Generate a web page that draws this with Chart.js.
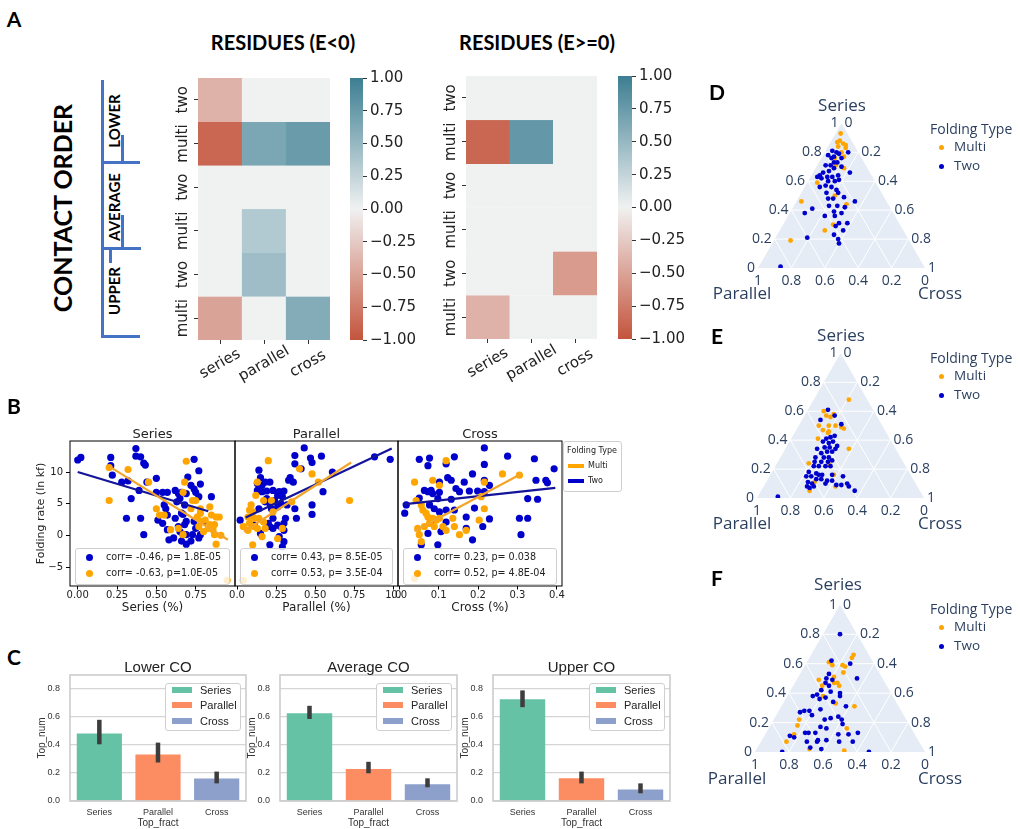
<!DOCTYPE html>
<html><head><meta charset="utf-8">
<script src="https://cdn.jsdelivr.net/npm/chart.js@4.4.1/dist/chart.umd.min.js"></script>
<style>
html,body{margin:0;padding:0;background:#fff;}
#root{position:relative;width:1020px;height:829px;overflow:hidden;background:#fff;}
</style></head><body><div id="root"></div>
<script>
// ================= DATA =================
// Panel A : residue heatmaps (rows top -> bottom)
const heatRowLabels = ['two','multi','two','multi','two','multi'];
const heatColLabels = ['series','parallel','cross'];
const resNegSeries   = [-0.40,-0.88, 0.00, 0.00, 0.00,-0.50];
const resNegParallel = [ 0.00, 0.65, 0.00, 0.35, 0.45, 0.00];
const resNegCross    = [ 0.00, 0.75, 0.00, 0.00, 0.00, 0.60];
const resPosSeries   = [ 0.00,-0.88, 0.00, 0.00, 0.00,-0.40];
const resPosParallel = [ 0.00, 0.78, 0.00, 0.00, 0.00, 0.00];
const resPosCross    = [ 0.00, 0.00, 0.00, 0.00,-0.55, 0.00];
const colorbarTicks  = [1,0.75,0.5,0.25,0,-0.25,-0.5,-0.75,-1];

// Panel B : folding rate vs topology fraction  [fraction, ln kf]
const seriesTwo = [[0.00,11.9],[0.02,12.3],[0.21,12.3],[0.37,13.7],[0.37,12.5],[0.40,12.4],[0.42,11.4],[0.43,11.1],[0.74,12.0],[0.21,11.0],[0.22,9.5],[0.28,8.4],[0.32,8.6],[0.34,5.8],[0.39,7.1],[0.31,2.7],[0.40,2.7],[0.42,0.1],[0.44,8.4],[0.50,9.0],[0.50,6.8],[0.54,6.8],[0.57,6.8],[0.55,4.8],[0.56,4.2],[0.57,3.2],[0.51,2.4],[0.54,1.9],[0.57,0.9],[0.58,-0.7],[0.62,7.1],[0.64,6.6],[0.65,5.8],[0.66,6.8],[0.63,5.3],[0.68,4.8],[0.66,3.5],[0.62,2.7],[0.64,1.4],[0.68,1.7],[0.69,2.2],[0.70,9.2],[0.72,7.9],[0.74,7.3],[0.69,6.6],[0.75,6.8],[0.77,10.2],[0.78,8.1],[0.77,6.1],[0.74,2.2],[0.75,1.1],[0.73,0.1],[0.78,0.1],[0.69,0.1],[0.66,-0.9],[0.69,-1.4],[0.67,0.1],[0.61,-0.4],[0.65,0.6],[0.80,2.2],[0.67,3.3],[0.85,6.1],[0.72,-0.9],[0.77,-0.4]];
const seriesMulti = [[0.20,10.7],[0.32,10.4],[0.69,11.7],[0.20,5.5],[0.45,8.4],[0.50,4.2],[0.68,8.4],[0.67,6.8],[0.73,5.5],[0.75,5.5],[0.72,4.2],[0.78,4.2],[0.84,4.5],[0.85,3.2],[0.88,2.9],[0.90,2.9],[0.76,2.9],[0.78,2.2],[0.81,2.4],[0.84,1.7],[0.87,1.7],[0.83,1.1],[0.86,0.9],[0.87,0.1],[0.91,0.0],[0.67,0.1],[0.64,1.1],[0.59,0.9],[0.55,3.2],[0.52,3.2],[0.77,1.4],[0.80,0.6],[0.88,-1.4],[0.78,3.5],[0.95,-7.1]];
const parallelTwo = [[0.43,13.8],[0.37,12.6],[0.47,12.2],[0.48,11.5],[0.54,12.5],[0.37,11.3],[0.41,10.5],[0.14,10.3],[0.15,9.1],[0.34,9.1],[0.36,8.4],[0.33,8.7],[0.13,8.2],[0.18,8.4],[0.21,8.4],[0.13,7.1],[0.16,6.9],[0.19,7.0],[0.23,7.1],[0.27,6.9],[0.30,7.0],[0.26,6.3],[0.29,6.1],[0.24,5.5],[0.18,5.3],[0.21,5.0],[0.28,5.0],[0.14,4.2],[0.22,4.2],[0.26,4.5],[0.32,4.8],[0.37,4.2],[0.48,4.8],[0.48,3.3],[0.38,2.7],[0.31,2.7],[0.23,2.7],[0.20,1.9],[0.21,1.4],[0.23,1.1],[0.26,1.6],[0.28,1.4],[0.30,1.9],[0.30,0.8],[0.27,-0.2],[0.30,-1.0],[0.29,-1.8],[0.21,-1.5],[0.15,0.3],[0.11,1.6],[0.55,6.9],[0.61,10.0],[0.88,12.4],[0.98,12.0],[0.16,7.9],[0.19,5.8],[0.02,2.4]];
const parallelMulti = [[0.20,11.8],[0.40,10.5],[0.48,9.7],[0.13,8.4],[0.12,6.3],[0.17,5.5],[0.09,4.8],[0.08,4.0],[0.10,3.7],[0.07,2.9],[0.11,2.7],[0.14,2.7],[0.08,1.9],[0.11,1.4],[0.13,1.1],[0.17,2.1],[0.18,1.1],[0.16,-0.2],[0.10,-1.5],[0.26,-0.5],[0.29,1.1],[0.23,3.7],[0.22,5.5],[0.35,5.3],[0.52,8.4],[0.72,5.5],[0.07,0.8],[0.04,1.4],[0.04,-7.1]];
const crossTwo = [[0.216,13.8],[0.051,12.0],[0.077,12.2],[0.073,11.0],[0.119,11.3],[0.140,12.4],[0.216,11.2],[0.275,12.5],[0.343,12.1],[0.393,10.5],[0.123,9.1],[0.132,8.7],[0.186,9.7],[0.165,8.4],[0.216,8.7],[0.102,8.4],[0.347,8.7],[0.372,8.7],[0.376,8.3],[0.051,5.9],[0.064,7.1],[0.073,6.9],[0.081,7.1],[0.085,6.6],[0.102,6.8],[0.144,7.4],[0.153,6.9],[0.178,7.0],[0.199,7.0],[0.216,6.9],[0.229,7.9],[0.018,4.8],[0.014,3.5],[0.098,5.8],[0.132,5.7],[0.089,4.2],[0.102,3.7],[0.119,4.0],[0.140,4.0],[0.170,2.9],[0.191,4.3],[0.229,2.6],[0.212,1.4],[0.170,1.1],[0.073,0.3],[0.106,0.6],[0.081,2.3],[0.119,2.1],[0.186,-0.7],[0.305,2.7],[0.326,2.7],[0.309,0.1],[0.326,5.8],[0.351,5.7],[0.098,-1.5],[0.056,-1.5],[0.077,4.8]];
const crossMulti = [[0.119,11.8],[0.039,8.4],[0.085,8.7],[0.102,7.9],[0.262,9.7],[0.305,9.5],[0.216,8.4],[0.043,5.5],[0.056,4.8],[0.060,4.0],[0.068,3.5],[0.073,2.9],[0.085,2.7],[0.094,2.4],[0.102,2.7],[0.077,1.9],[0.089,1.4],[0.047,1.1],[0.051,0.1],[0.056,-1.0],[0.064,1.4],[0.111,1.4],[0.136,2.7],[0.140,1.4],[0.153,0.1],[0.170,0.8],[0.203,2.4],[0.216,4.2],[0.208,6.1],[0.119,0.8],[0.039,-6.8]];
// regression line end points
const seriesTwoFit = [[0.00,10.0],[0.83,3.8]];
const seriesMultiFit = [[0.20,10.9],[0.955,-0.7]];
const parallelTwoFit = [[0.055,2.8],[0.99,13.7]];
const parallelMultiFit = [[0.044,0.6],[0.73,11.5]];
const crossTwoFit = [[0.009,4.9],[0.396,7.5]];
const crossMultiFit = [[0.039,0.7],[0.309,9.7]];
const seriesCorr = ['corr= -0.46, p= 1.8E-05','corr= -0.63, p=1.0E-05'];
const parallelCorr = ['corr= 0.43, p= 8.5E-05','corr= 0.53, p= 3.5E-04'];
const crossCorr = ['corr= 0.23, p= 0.038','corr= 0.52, p= 4.8E-04'];
const foldYTicks = [-5,0,5,10];
const foldYTickLabels = ['\u22125','0','5','10'];
const seriesXTicks = [0,0.25,0.5,0.75];
const seriesXTickLabels = ['0.00','0.25','0.50','0.75'];
const parallelXTicks = [0,0.25,0.5,0.75,1];
const parallelXTickLabels = ['0.0','0.25','0.50','0.75','1.0'];
const crossXTicks = [0,0.1,0.2,0.3,0.4];
const crossXTickLabels = ['0.0','0.1','0.2','0.3','0.4'];

// Panel C : Top_num by topology
const topCategories = ['Series','Parallel','Cross'];
const lowerMean = [0.483,0.333,0.160];
const lowerLow  = [0.405,0.275,0.126];
const lowerHigh = [0.580,0.417,0.210];
const averageMean = [0.626,0.229,0.119];
const averageLow  = [0.586,0.198,0.098];
const averageHigh = [0.680,0.280,0.162];
const upperMean = [0.726,0.162,0.083];
const upperLow  = [0.670,0.126,0.055];
const upperHigh = [0.790,0.210,0.126];
const topYTicks = [0,0.2,0.4,0.6,0.8];

// Panels D-F : ternary compositions [series, cross]  (parallel = 1 - series - cross)
const lowerTwoTern = [[0.80,0.07],[0.79,0.09],[0.77,0.07],[0.76,0.06],[0.71,0.05],[0.71,0.08],[0.73,0.11],[0.76,0.12],[0.80,0.14],[0.69,0.11],[0.67,0.09],[0.66,0.06],[0.63,0.04],[0.64,0.05],[0.63,0.10],[0.63,0.13],[0.64,0.16],[0.66,0.22],[0.60,0.12],[0.60,0.16],[0.61,0.18],[0.57,0.12],[0.56,0.16],[0.54,0.20],[0.52,0.22],[0.49,0.27],[0.56,0.09],[0.41,0.12],[0.38,0.09],[0.46,0.35],[0.43,0.21],[0.43,0.26],[0.42,0.31],[0.38,0.31],[0.36,0.22],[0.36,0.28],[0.31,0.38],[0.31,0.33],[0.29,0.32],[0.26,0.38],[0.23,0.34],[0.20,0.38],[0.17,0.40],[0.21,0.19],[0.01,0.13],[0.48,0.18],[0.48,0.21],[0.52,0.15],[0.39,0.26],[0.62,0.07],[0.81,0.04],[0.70,0.15],[0.78,0.03],[0.73,0.09]];
const lowerMultiTern = [[0.93,0.03],[0.87,0.04],[0.86,0.08],[0.83,0.11],[0.80,0.10],[0.77,0.13],[0.84,0.06],[0.69,0.17],[0.59,0.06],[0.46,0.03],[0.44,0.31],[0.30,0.30],[0.26,0.27],[0.19,0.10],[0.71,0.11],[0.50,0.21],[0.88,0.05],[0.85,0.10],[0.76,0.08]];
const averageTwoTern = [[0.61,0.12],[0.54,0.11],[0.57,0.18],[0.51,0.25],[0.41,0.21],[0.42,0.23],[0.43,0.25],[0.39,0.20],[0.38,0.24],[0.39,0.26],[0.34,0.19],[0.35,0.23],[0.35,0.26],[0.36,0.30],[0.31,0.23],[0.32,0.26],[0.32,0.29],[0.28,0.21],[0.28,0.26],[0.28,0.29],[0.25,0.22],[0.25,0.26],[0.25,0.30],[0.26,0.32],[0.22,0.23],[0.22,0.26],[0.22,0.30],[0.22,0.33],[0.18,0.22],[0.17,0.27],[0.16,0.31],[0.16,0.37],[0.15,0.22],[0.15,0.25],[0.13,0.29],[0.13,0.32],[0.12,0.36],[0.12,0.39],[0.15,0.44],[0.11,0.25],[0.10,0.28],[0.08,0.26],[0.08,0.30],[0.10,0.36],[0.09,0.43],[0.09,0.46],[0.10,0.49],[0.08,0.51],[0.05,0.56],[0.07,0.28],[0.01,0.12],[0.16,0.29],[0.34,0.30]];
const averageMultiTern = [[0.68,0.21],[0.60,0.10],[0.57,0.13],[0.56,0.16],[0.58,0.17],[0.50,0.12],[0.50,0.18],[0.50,0.22],[0.49,0.26],[0.48,0.28],[0.47,0.16],[0.46,0.20],[0.41,0.16],[0.45,0.20],[0.34,0.38],[0.24,0.19],[0.23,0.32],[0.16,0.38],[0.08,0.43],[0.05,0.29],[0.11,0.29]];
const upperTwoTern = [[0.80,0.10],[0.62,0.14],[0.60,0.26],[0.50,0.35],[0.53,0.17],[0.50,0.17],[0.49,0.21],[0.47,0.18],[0.45,0.21],[0.42,0.18],[0.39,0.17],[0.41,0.24],[0.40,0.30],[0.38,0.31],[0.38,0.15],[0.36,0.20],[0.37,0.23],[0.34,0.29],[0.31,0.38],[0.28,0.15],[0.28,0.18],[0.27,0.13],[0.29,0.24],[0.25,0.21],[0.24,0.37],[0.22,0.40],[0.23,0.33],[0.22,0.30],[0.17,0.30],[0.16,0.34],[0.13,0.23],[0.13,0.25],[0.13,0.29],[0.13,0.54],[0.12,0.43],[0.12,0.49],[0.11,0.15],[0.10,0.18],[0.08,0.33],[0.08,0.38],[0.07,0.46],[0.07,0.54],[0.07,0.27],[0.07,0.33],[0.03,0.31],[0.02,0.38],[0.00,0.16],[0.00,0.67],[0.19,0.42]];
const upperMultiTern = [[0.66,0.25],[0.64,0.25],[0.61,0.13],[0.59,0.16],[0.59,0.22],[0.58,0.24],[0.54,0.25],[0.51,0.21],[0.47,0.25],[0.47,0.23],[0.45,0.27],[0.49,0.13],[0.45,0.17],[0.38,0.21],[0.33,0.31],[0.31,0.43],[0.22,0.15],[0.18,0.16],[0.12,0.17],[0.07,0.15],[0.16,0.46],[0.01,0.52],[0.02,0.31]];
const ternTicks = [0,0.2,0.4,0.6,0.8,1];

// ================= HELPERS =================
Chart.defaults.font.family = "'DejaVu Sans'";
Chart.defaults.color = '#222';
const root = document.getElementById('root');
function div(css, text){ const e=document.createElement('div'); Object.assign(e.style,{position:'absolute'},css); if(text!=null) e.textContent=text; root.appendChild(e); return e; }
function label(text,x,y,font,opt={}){
  const a=opt.anchor||'cc', rot=opt.rot||0;
  const tx=a[0]==='l'?'0':a[0]==='r'?'-100%':'-50%';
  const ty=a[1]==='t'?'0':a[1]==='b'?'-100%':'-50%';
  return div({left:x+'px',top:y+'px',font,color:opt.color||'#000',whiteSpace:'nowrap',lineHeight:'1',transform:`translate(${tx},${ty}) rotate(${rot}deg)`},text);
}
function line(x1,y1,x2,y2,w,color){ // axis-aligned decorative line
  return div({left:Math.min(x1,x2)-(x1===x2?w/2:0)+'px',top:Math.min(y1,y2)-(y1===y2?w/2:0)+'px',width:(x1===x2?w:Math.abs(x2-x1))+'px',height:(y1===y2?w:Math.abs(y2-y1))+'px',background:color});
}
function mkCanvas(l,t,w,h){ const c=document.createElement('canvas'); c.width=w; c.height=h; Object.assign(c.style,{position:'absolute',left:l+'px',top:t+'px',width:w+'px',height:h+'px'}); root.appendChild(c); return c; }
const fixW = w => s => { s.width=w; s.paddingTop=0; s.paddingBottom=0; s.paddingLeft=0; s.paddingRight=0; };
const fixH = h => s => { s.height=h; s.paddingTop=0; s.paddingBottom=0; s.paddingLeft=0; s.paddingRight=0; };
const setTicks = arr => s => { s.ticks = arr.map(v=>({value:v})); };
const baseOpts = {responsive:false, animation:false, devicePixelRatio:1, events:[]};

const framePlugin = {id:'frame', afterDatasetsDraw(chart,args,o){
  if(!o || !o.color) return; const a=chart.chartArea, ctx=chart.ctx;
  ctx.save(); ctx.strokeStyle=o.color; ctx.lineWidth=o.width||1;
  ctx.strokeRect(a.left, a.top, a.right-a.left, a.bottom-a.top); ctx.restore(); }};
Chart.register(framePlugin);

// colour map (diverging red - light - teal)
const cNeg=[196,84,60], cMid=[240,241,241], cPos=[60,126,146];
function cmap(v){ const t=Math.min(1,Math.abs(v)); const e=v<0?cNeg:cPos; const c=cMid.map((m,i)=>Math.round(m+(e[i]-m)*t)); return `rgb(${c.join(',')})`; }

// ================= PANEL A =================
const heatLabelPlugin = {id:'heatLabels', afterDraw(chart,args,o){
  if(!o || !o.rows) return; const {ctx, chartArea:a, scales:{x,y}}=chart;
  ctx.save(); ctx.font=o.font; ctx.fillStyle='#222'; ctx.textAlign='center'; ctx.textBaseline='middle';
  o.rows.forEach((r,i)=>{ const py=y.getPixelForValue(i+0.5); ctx.save(); ctx.translate(a.left-o.yOff,py); ctx.rotate(-Math.PI/2); ctx.fillText(r,0,0); ctx.restore(); });
  o.cols.forEach((c,i)=>{ const px=x.getPixelForValue(i); ctx.save(); ctx.translate(px,a.bottom+o.xOff); ctx.rotate(-Math.PI/6); ctx.fillText(c,0,0); ctx.restore(); });
  ctx.restore(); }};

function heatmap(area, colVals){
  const cl=area.l-34, ct=area.t-4, cr=area.r+4, cb=area.b+50;
  const c=mkCanvas(cl,ct,cr-cl,cb-ct);
  const datasets = heatRowLabels.map((r,ri)=>{
    const cols = colVals.map(arr=>cmap(arr[ri]));
    return {data:heatColLabels.map(()=>1), backgroundColor:cols, borderColor:cols, borderWidth:0.6, barPercentage:1, categoryPercentage:1};
  });
  new Chart(c,{type:'bar', data:{labels:heatColLabels, datasets}, plugins:[heatLabelPlugin], options:{...baseOpts,
    layout:{padding:{left:0,top:4,right:4,bottom:0}, autoPadding:false},
    scales:{
      x:{stacked:true, ticks:{display:false}, grid:{drawOnChartArea:false, offset:false, tickLength:4, color:'#333', lineWidth:1}, border:{display:false}, afterFit:fixH(50)},
      y:{stacked:true, reverse:true, min:0, max:6, afterBuildTicks:setTicks([0.5,1.5,2.5,3.5,4.5,5.5]), ticks:{display:false}, grid:{drawOnChartArea:false, tickLength:4, color:'#333', lineWidth:1}, border:{display:false}, afterFit:fixW(34)}
    },
    plugins:{legend:{display:false}, tooltip:{enabled:false}, heatLabels:{rows:heatRowLabels, cols:heatColLabels, font:'15px "DejaVu Sans"', yOff:15, xOff:24}}}});
}
function colorbar(area){
  const cl=area.l, ct=area.t-10, cr=area.r+62, cb=area.b+10;
  const c=mkCanvas(cl,ct,cr-cl,cb-ct);
  const grad = (ctx)=>{ const ch=ctx.chart; const a=ch.chartArea; if(!a) return cMid; const g=ch.ctx.createLinearGradient(0,a.bottom,0,a.top); for(let i=0;i<=20;i++){ g.addColorStop(i/20, cmap(-1+2*i/20)); } return g; };
  new Chart(c,{type:'bar', data:{labels:[''], datasets:[{data:[[-1,1]], backgroundColor:grad, borderWidth:0, barPercentage:1, categoryPercentage:1}]}, options:{...baseOpts,
    layout:{padding:{left:0,top:10,right:0,bottom:10}, autoPadding:false},
    scales:{
      x:{display:false},
      y:{position:'right', min:-1, max:1, afterBuildTicks:setTicks(colorbarTicks), ticks:{callback:v=>(v<0?'\u2212':'')+Math.abs(v).toFixed(2), font:{size:15}, color:'#222', padding:3}, grid:{drawOnChartArea:false, tickLength:4, color:'#333'}, border:{display:false}, afterFit:fixW(62)}
    }, plugins:{legend:{display:false}, tooltip:{enabled:false}}}});
}
heatmap({l:198,r:330,t:78,b:340},[resNegSeries,resNegParallel,resNegCross]);
colorbar({l:350,r:363,t:78,b:340});
heatmap({l:466,r:597,t:76,b:339},[resPosSeries,resPosParallel,resPosCross]);
colorbar({l:618,r:632,t:76,b:339});

const titleFont='bold 20px Lato';
label('A',14,18,'bold 21px Lato');
label('RESIDUES (E<0)',283,42,titleFont);
label('RESIDUES (E>=0)',537,42,titleFont);
label('CONTACT ORDER',62,208,'bold 25px Lato',{rot:-90});
label('LOWER',114,121,'bold 15px Lato',{rot:-90});
label('AVERAGE',114,207,'bold 15px Lato',{rot:-90});
label('UPPER',114,291,'bold 15px Lato',{rot:-90});
const bc='#4472c4';
line(102,80,102,338,3,bc);
line(101,162,140,162,3,bc);
line(101,248,141,248,3,bc);
line(101,336,140,336,3,bc);
line(122,135,122,162,3,bc);
line(122,215,122,248,3,bc);
line(110,250,110,263,3,bc);

// ================= PANEL B =================
const blueC='#0000cd', orangeC='#ffa500';
function scatterB(o){
  const T=436, areaT=441, areaB=586, B=619;
  const cl=o.showY?31:o.areaL-18, cr=o.areaR+18;
  const c=mkCanvas(cl,T,cr-cl,B-T);
  const pts=arr=>arr.map(p=>({x:p[0],y:p[1]}));
  new Chart(c,{type:'scatter', data:{datasets:[
    {type:'line', data:pts(o.multiFit), borderColor:'#f2a52a', borderWidth:2.2, pointRadius:0, order:0},
    {type:'line', data:pts(o.twoFit), borderColor:'#14149a', borderWidth:2.2, pointRadius:0, order:1},
    {data:pts(o.multi), backgroundColor:orangeC, borderWidth:0, pointRadius:3.6, order:2},
    {data:pts(o.two), backgroundColor:blueC, borderWidth:0, pointRadius:3.6, order:3}
  ]}, options:{...baseOpts,
    layout:{padding:{left:o.showY?0:o.areaL-cl, right:cr-o.areaR, top:areaT-T, bottom:0}, autoPadding:false},
    scales:{
      x:{type:'linear', min:o.xMin, max:o.xMax, afterBuildTicks:setTicks(o.xTicks), ticks:{callback:(v,i)=>o.xLabels[i], font:{size:10}, color:'#222', padding:0, maxRotation:0}, grid:{drawOnChartArea:false, tickLength:3.5, color:'#000'}, border:{display:false}, title:{display:true, text:o.xTitle, font:{size:12}, color:'#222', padding:{top:0,bottom:4}}, afterFit:fixH(B-areaB)},
      y:{display:o.showY, min:-8, max:14.9, afterBuildTicks:setTicks(foldYTicks), ticks:{callback:(v,i)=>foldYTickLabels[i], font:{size:10}, color:'#222', padding:3}, grid:{drawOnChartArea:false, tickLength:4, color:'#000'}, border:{display:false}, title:{display:true, text:'Folding rate (ln kf)', font:{size:11}, color:'#222', padding:{top:4,bottom:0}}, afterFit:fixW(o.showY?o.areaL-cl:0)}
    }, plugins:{legend:{display:false}, tooltip:{enabled:false}, frame:{color:'#000', width:1}}}});
  label(o.title,(o.areaL+o.areaR)/2,433,'13px "DejaVu Sans"',{color:'#222'});
  div({left:(o.areaL+5)+'px',top:'548px',width:(o.areaR-o.areaL-12)+'px',height:'35px',border:'1px solid #cfcfcf',borderRadius:'3px',background:'rgba(255,255,255,0.82)'});
  [[blueC,o.corr[0],557],[orangeC,o.corr[1],573]].forEach(([col,t,y])=>{
    div({left:(o.areaL+16)+'px',top:(y-3.5)+'px',width:'7px',height:'7px',borderRadius:'50%',background:col});
    label(t,o.areaL+36,y,'9.6px "DejaVu Sans"',{anchor:'lc',color:'#222'});
  });
}
scatterB({showY:true, areaL:70, areaR:235, xMin:-0.049, xMax:1.0, xTicks:seriesXTicks, xLabels:seriesXTickLabels, xTitle:'Series (%)', title:'Series', two:seriesTwo, multi:seriesMulti, twoFit:seriesTwoFit, multiFit:seriesMultiFit, corr:seriesCorr});
scatterB({showY:false, areaL:235, areaR:398, xMin:-0.013, xMax:1.03, xTicks:parallelXTicks, xLabels:parallelXTickLabels, xTitle:'Parallel (%)', title:'Parallel', two:parallelTwo, multi:parallelMulti, twoFit:parallelTwoFit, multiFit:parallelMultiFit, corr:parallelCorr});
scatterB({showY:false, areaL:398, areaR:562, xMin:-0.003, xMax:0.413, xTicks:crossXTicks, xLabels:crossXTickLabels, xTitle:'Cross (%)', title:'Cross', two:crossTwo, multi:crossMulti, twoFit:crossTwoFit, multiFit:crossMultiFit, corr:crossCorr});
label('B',14,405,'bold 21px Lato');
// Folding type legend
div({left:'563px',top:'441px',width:'57px',height:'49px',border:'1px solid #cfcfcf',borderRadius:'3px',background:'#fff'});
label('Folding Type',592,451,'8px "DejaVu Sans"',{color:'#222'});
line(568,466,584,466,4,orangeC); label('Multi',588,466,'8px "DejaVu Sans"',{anchor:'lc',color:'#222'});
line(568,481,584,481,4,blueC); label('Two',588,481,'8px "DejaVu Sans"',{anchor:'lc',color:'#222'});

// ================= PANEL C =================
const barColors=['#66c2a5','#fc8d62','#8da0cb'];
function barC(area, mean, low, high, title){
  const cl=area.l-40, ct=area.t-4, cr=area.r+4, cb=829;
  const c=mkCanvas(cl,ct,cr-cl,cb-ct);
  new Chart(c,{type:'bar', data:{labels:topCategories, datasets:[
    {data:low.map((l,i)=>[l,high[i]]), backgroundColor:'#3d3d3d', maxBarThickness:4.5, barPercentage:0.2, categoryPercentage:1, grouped:false, order:0},
    {data:mean, backgroundColor:barColors, barPercentage:0.77, categoryPercentage:1, grouped:false, order:1}
  ]}, options:{...baseOpts,
    layout:{padding:{left:0,top:4,right:4,bottom:0}, autoPadding:false},
    scales:{
      x:{grid:{display:false, drawTicks:false}, border:{display:false}, ticks:{font:{size:9,family:'Liberation Sans'}, color:'#333', padding:6}, title:{display:true, text:'Top_fract', font:{size:10,family:'Liberation Sans'}, color:'#333', padding:{top:0,bottom:0}}, afterFit:fixH(cb-area.b)},
      y:{min:0, max:0.9, afterBuildTicks:setTicks(topYTicks), ticks:{callback:v=>v.toFixed(1), font:{size:9,family:'Liberation Sans'}, color:'#333', padding:10}, grid:{color:'#d5d5d5', lineWidth:1.2, drawTicks:false}, border:{display:false}, title:{display:true, text:'Top_num', font:{size:10,family:'Liberation Sans'}, color:'#333', padding:{top:6,bottom:0}}, afterFit:fixW(40)}
    }, plugins:{legend:{display:false}, tooltip:{enabled:false}, frame:{color:'#cccccc', width:1.6}}}});
  label(title,(area.l+area.r)/2,666,'15px "Liberation Sans"',{color:'#222'});
  const lx=area.r-81, ly=683;
  div({left:lx+'px',top:ly+'px',width:'74px',height:'46px',border:'1px solid #d0d0d0',borderRadius:'3px',background:'#fff'});
  topCategories.forEach((t,i)=>{
    const y=ly+7+i*15.3;
    div({left:(lx+7)+'px',top:(y-3)+'px',width:'20px',height:'6px',background:barColors[i]});
    label(t,lx+35,y,'11px "Liberation Sans"',{anchor:'lc',color:'#222'});
  });
}
barC({l:70,r:246,t:675,b:801},lowerMean,lowerLow,lowerHigh,'Lower CO');
barC({l:280,r:457,t:675,b:801},averageMean,averageLow,averageHigh,'Average CO');
barC({l:493,r:670,t:675,b:801},upperMean,upperLow,upperHigh,'Upper CO');
label('C',14,656,'bold 21px Lato');

// ================= PANELS D-F (ternary) =================
const SQ=Math.sqrt(3)/2;
const ternTickPlugin={id:'ternTicks', afterDraw(chart,args,o){
  if(!o || !o.on) return; const {ctx, scales:{x,y}}=chart;
  const P=(a,cc)=>[x.getPixelForValue(cc+a/2), y.getPixelForValue(a*SQ)];
  const f=v=>v===0?'0':v===1?'1':String(v);
  ctx.save(); ctx.font='14px "Open Sans"'; ctx.fillStyle='#2a3f5f'; ctx.textBaseline='middle';
  ternTicks.forEach(v=>{
    let [px,py]=P(v,0); ctx.textAlign='right'; ctx.fillText(f(v),px-3,py);
    [px,py]=P(1-v,v); ctx.textAlign='left'; ctx.fillText(f(v),px+3,py);
    [px,py]=P(0,1-v); ctx.textAlign='center'; ctx.fillText(f(v),px,py+13);
  });
  ctx.restore(); }};
function ternary(o){
  const w=o.triR-o.triL, h=w*SQ, triT=o.triB-h;
  const cl=700, cr=1020, ct=Math.floor(triT-30), cb=Math.ceil(o.triB+32);
  const c=mkCanvas(cl,ct,cr-cl,cb-ct);
  const toXY=p=>({x:p[1]+p[0]/2, y:p[0]*SQ});
  const grid=[];
  [0.2,0.4,0.6,0.8].forEach(v=>{
    grid.push([{x:v/2,y:v*SQ},{x:1-v/2,y:v*SQ}]);
    grid.push([{x:v,y:0},{x:v+(1-v)/2,y:(1-v)*SQ}]);
    grid.push([{x:1-v,y:0},{x:(1-v)/2,y:(1-v)*SQ}]);
  });
  const datasets=[{type:'line', data:[{x:0,y:0},{x:0.5,y:SQ},{x:1,y:0}], fill:'origin', backgroundColor:'#e5ecf6', borderWidth:0, pointRadius:0, order:20}];
  grid.forEach(g=>datasets.push({type:'line', data:g, borderColor:'#ffffff', borderWidth:1, pointRadius:0, order:10}));
  datasets.push({data:o.multi.map(toXY), backgroundColor:orangeC, borderWidth:0, pointRadius:2.4, order:2});
  datasets.push({data:o.two.map(toXY), backgroundColor:blueC, borderWidth:0, pointRadius:2.4, order:1});
  new Chart(c,{type:'scatter', data:{datasets}, plugins:[ternTickPlugin], options:{...baseOpts,
    layout:{padding:{left:o.triL-cl, right:cr-o.triR, top:triT-ct, bottom:cb-o.triB}, autoPadding:false},
    scales:{x:{type:'linear', min:0, max:1, display:false}, y:{type:'linear', min:0, max:SQ, display:false}},
    plugins:{legend:{display:false}, tooltip:{enabled:false}, ternTicks:{on:true}}}});
  const tf='17px "Open Sans"', tc='#2a3f5f';
  label('Series',o.sx,o.sy,tf,{color:tc});
  label('Parallel',o.px,o.py,tf,{color:tc});
  label('Cross',940,o.py,tf,{color:tc});
  label(o.letter,717,o.ly,'bold 21px Lato');
  label('Folding Type',930,o.legY,'14px "Open Sans"',{anchor:'lc',color:tc});
  [[orangeC,'Multi',o.legY+18],[blueC,'Two',o.legY+37]].forEach(([col,t,y])=>{
    div({left:'938.5px',top:(y-2.5)+'px',width:'5px',height:'5px',borderRadius:'50%',background:col});
    label(t,954,y,'13.5px "Open Sans"',{anchor:'lc',color:tc});
  });
}
ternary({triL:758,triR:925,triB:268,two:lowerTwoTern,multi:lowerMultiTern,sx:842,sy:104,px:742,py:292,letter:'D',ly:91,legY:129});
ternary({triL:757,triR:924,triB:498,two:averageTwoTern,multi:averageMultiTern,sx:841,sy:334,px:742,py:522,letter:'E',ly:335,legY:358});
ternary({triL:755,triR:925,triB:752,two:upperTwoTern,multi:upperMultiTern,sx:838,sy:583,px:737,py:777,letter:'F',ly:577,legY:609});
</script></body></html>
